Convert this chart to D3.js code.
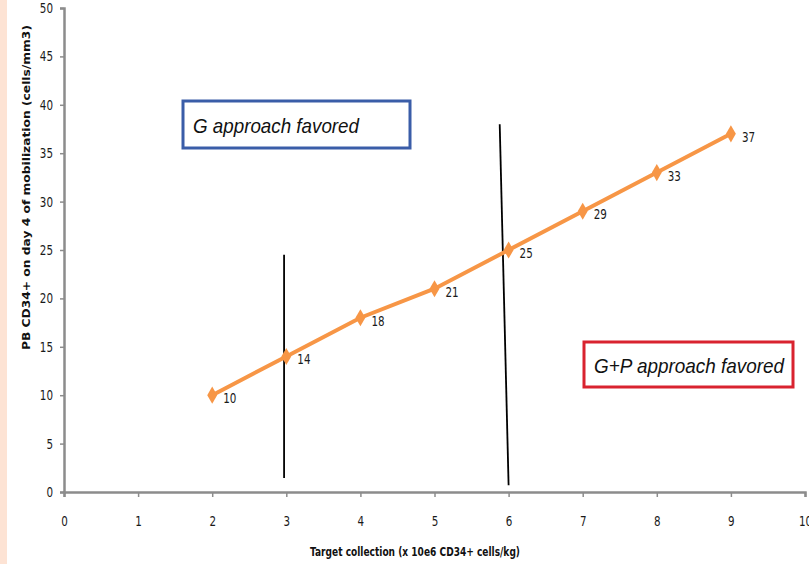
<!DOCTYPE html>
<html>
<head>
<meta charset="utf-8">
<script src="https://cdn.jsdelivr.net/npm/d3@7"></script>
<style>
  html, body { margin: 0; padding: 0; background: #fff; }
  svg { display: block; }
</style>
</head>
<body>
<svg id="chart" width="809" height="564"></svg>
<script>
// Target collection (x 10e6 CD34+ cells/kg) vs. required PB CD34+ on day 4
const targets = [2, 3, 4, 5, 6, 7, 8, 9];
const pbCD34 = [10, 14, 18, 21, 25, 29, 33, 37];
const xTicks = [0, 1, 2, 3, 4, 5, 6, 7, 8, 9, 10];
const yTicks = [0, 5, 10, 15, 20, 25, 30, 35, 40, 45, 50];
// threshold separators, as [x, y] endpoints in data units
const divider1 = [[2.97, 24.5], [2.97, 1.45]];
const divider2 = [[5.88, 38.0], [6.0, 0.7]];
const labelG = "G approach favored";
const labelGP = "G+P approach favored";
const xTitle = "Target collection (x 10e6 CD34+ cells/kg)";
const yTitle = "PB CD34+ on day 4 of mobilization  (cells/mm3)";

const svg = d3.select("#chart");
const W = 809, H = 564;
const narrow = "'DejaVu Sans', sans-serif";
const squeeze = 0.74;

// left decorative strip
svg.append("rect").attr("x", 0).attr("y", 0).attr("width", 7).attr("height", H)
  .attr("fill", "#fde3d4");

const x = d3.scaleLinear().domain([0, 10]).range([64, 805]);
const y = d3.scaleLinear().domain([0, 50]).range([492, 8]);

const axisColor = "#8c8c8c";

function styleTickText(sel) {
  sel.attr("font-family", narrow)
    .attr("font-size", 14)
    .attr("fill", "#1a1a1a")
    .attr("transform", function () {
      // squeeze glyphs horizontally around their anchor
      const ax = +d3.select(this).attr("x") || 0;
      return `translate(${ax},0) scale(${squeeze},1) translate(${-ax},0)`;
    });
}

// y axis
const yAxis = svg.append("g").attr("transform", `translate(${x(0)},0)`)
  .call(d3.axisLeft(y).tickValues(yTicks).tickSize(4).tickPadding(7));
yAxis.select(".domain").attr("stroke", axisColor).attr("stroke-width", 2.5);
yAxis.selectAll(".tick line").attr("stroke", axisColor).attr("stroke-width", 1.5);
yAxis.selectAll(".tick text").call(styleTickText);

// x axis
const xAxis = svg.append("g").attr("transform", `translate(0,${y(0)})`)
  .call(d3.axisBottom(x).tickValues(xTicks).tickSize(5).tickPadding(19));
xAxis.select(".domain").attr("stroke", axisColor).attr("stroke-width", 2.5);
xAxis.selectAll(".tick line").attr("stroke", axisColor).attr("stroke-width", 1.5);
xAxis.selectAll(".tick text").call(styleTickText);

// axis titles
svg.append("text")
  .attr("x", 310).attr("y", 556)
  .attr("font-family", narrow)
  .attr("font-weight", "bold").attr("font-size", 12.5).attr("fill", "#111")
  .attr("textLength", 210).attr("lengthAdjust", "spacingAndGlyphs")
  .text(xTitle);

svg.append("text")
  .attr("transform", "translate(30,350) rotate(-90)")
  .attr("font-family", "'DejaVu Sans', Verdana, sans-serif")
  .attr("font-weight", "bold").attr("font-size", 11).attr("fill", "#111")
  .attr("textLength", 325).attr("lengthAdjust", "spacingAndGlyphs")
  .text(yTitle);

// threshold lines
const line = d3.line().x(d => x(d[0])).y(d => y(d[1]));
[divider1, divider2].forEach(seg => {
  svg.append("path").attr("d", line(seg))
    .attr("stroke", "#000").attr("stroke-width", 1.8).attr("fill", "none");
});

// data series
const pts = targets.map((t, i) => [t, pbCD34[i]]);
svg.append("path").attr("d", line(pts))
  .attr("fill", "none").attr("stroke", "#f79646").attr("stroke-width", 4);

svg.append("g").selectAll("path.m").data(pts).join("path")
  .attr("class", "m")
  .attr("d", d3.symbol().type(d3.symbolDiamond).size(85)())
  .attr("transform", d => `translate(${x(d[0])},${y(d[1])})`)
  .attr("fill", "#f79646");

svg.append("g").selectAll("text").data(pts).join("text")
  .attr("x", d => x(d[0]) + 11)
  .attr("y", d => y(d[1]) + 8)
  .attr("font-family", narrow)
  .attr("font-size", 14).attr("fill", "#1a1a1a")
  .attr("transform", d => {
    const ax = x(d[0]) + 11;
    return `translate(${ax},0) scale(${squeeze},1) translate(${-ax},0)`;
  })
  .text(d => d[1]);

// annotation boxes
function box(bx, by, bw, bh, color, txt, tw) {
  svg.append("rect").attr("x", bx).attr("y", by).attr("width", bw).attr("height", bh)
    .attr("fill", "#fff").attr("stroke", color).attr("stroke-width", 3);
  svg.append("text").attr("x", bx + 10).attr("y", by + bh / 2 + 8)
    .attr("font-family", "'Liberation Sans', Arial, sans-serif")
    .attr("font-style", "italic").attr("font-size", 21).attr("fill", "#111")
    .attr("textLength", tw).attr("lengthAdjust", "spacingAndGlyphs")
    .text(txt);
}
box(183, 101, 227, 47, "#3a5da8", labelG, 166);
box(584, 342, 209, 45, "#d9232f", labelGP, 190);
</script>
</body>
</html>
